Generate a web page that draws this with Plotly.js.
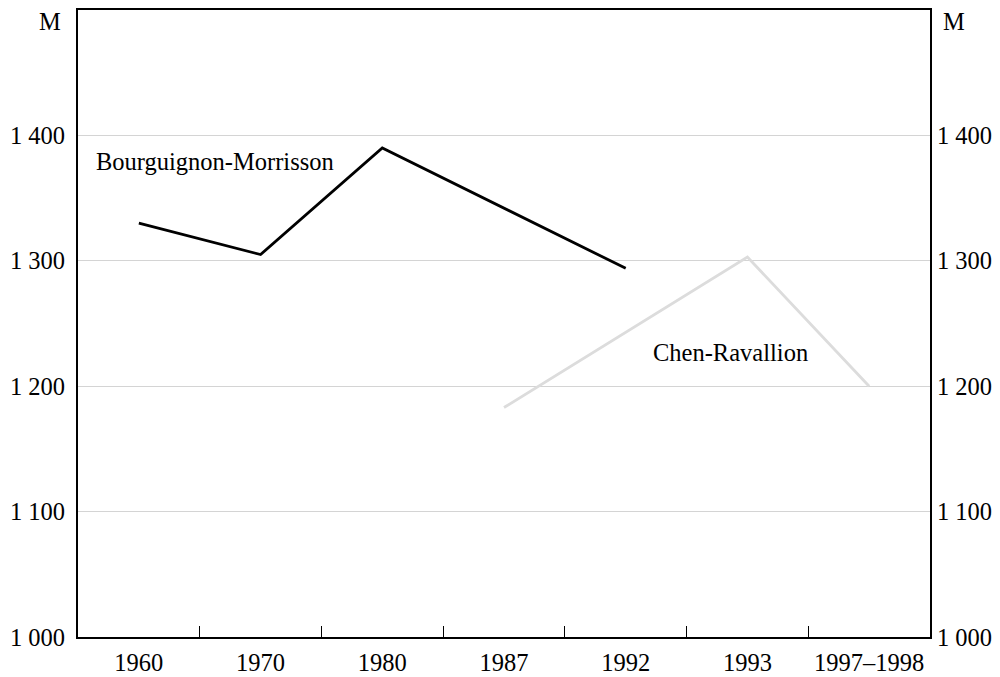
<!DOCTYPE html>
<html>
<head>
<meta charset="utf-8">
<script src="https://cdn.plot.ly/plotly-3.0.1.min.js"></script>
<style>html,body{margin:0;padding:0;background:#fff;}#chart{width:1000px;height:677px;}</style>
</head>
<body>
<div id="chart"></div>
<script>
const categories = ["1960", "1970", "1980", "1987", "1992", "1993", "1997–1998"];
const bourguignonMorrisson = [1330, 1305, 1390, null, 1294, null, null];
const chenRavallion = [null, null, null, 1183, null, 1303, 1200];
const yTickVals = [1000, 1100, 1200, 1300, 1400];
const yTickLabels = ["1 000", "1 100", "1 200", "1 300", "1 400"];
const seriesNames = ["Bourguignon-Morrisson", "Chen-Ravallion"];
const unitLabel = "M";

const FONT = "Liberation Serif, Times New Roman, serif";
const FS = 24.5;

const traces = [
  {x: categories, y: bourguignonMorrisson, type: "scatter", mode: "lines", connectgaps: true,
   name: seriesNames[0], line: {color: "#000000", width: 2.8}, xaxis: "x", yaxis: "y"},
  {x: categories, y: chenRavallion, type: "scatter", mode: "lines", connectgaps: true,
   name: seriesNames[1], line: {color: "#dcdcdc", width: 2.8}, xaxis: "x", yaxis: "y2"}
];

const yCommon = {
  range: [1000, 1500], tickvals: yTickVals, ticktext: yTickLabels,
  showline: true, linecolor: "#000", linewidth: 2, ticks: "", zeroline: false,
  tickfont: {family: FONT, size: FS, color: "#000"}
};

const layout = {
  width: 1000, height: 677,
  margin: {l: 78, r: 70, t: 10, b: 40},
  paper_bgcolor: "#fff", plot_bgcolor: "#fff",
  showlegend: false,
  font: {family: FONT, size: FS, color: "#000"},
  xaxis: {
    type: "category", categoryorder: "array", categoryarray: categories,
    range: [-0.5, 6.5], tickson: "boundaries", ticks: "inside", ticklen: 11,
    tickcolor: "#000", tickwidth: 1.2, showgrid: false,
    showline: true, linecolor: "#000", linewidth: 2, mirror: true,
    ticklabelstandoff: 3,
    tickfont: {family: FONT, size: FS, color: "#000"}
  },
  yaxis: Object.assign({}, yCommon, {side: "left", showgrid: true, gridcolor: "#d4d4d4", gridwidth: 1, ticklabelstandoff: 6}),
  yaxis2: Object.assign({}, yCommon, {side: "right", overlaying: "y", showgrid: false}),
  annotations: [
    {text: seriesNames[0], xref: "paper", yref: "paper", x: 0.161, y: 0.759, xanchor: "center", yanchor: "middle", showarrow: false, font: {family: FONT, size: FS, color: "#000"}},
    {text: seriesNames[1], xref: "paper", yref: "paper", x: 0.766, y: 0.4545, xanchor: "center", yanchor: "middle", showarrow: false, font: {family: FONT, size: FS, color: "#000"}},
    {text: unitLabel, xref: "paper", yref: "paper", x: -0.033, y: 0.982, xanchor: "center", yanchor: "middle", showarrow: false, font: {family: FONT, size: FS, color: "#000"}},
    {text: unitLabel, xref: "paper", yref: "paper", x: 1.028, y: 0.982, xanchor: "center", yanchor: "middle", showarrow: false, font: {family: FONT, size: FS, color: "#000"}}
  ]
};

Plotly.newPlot("chart", traces, layout, {displayModeBar: false, staticPlot: true});
</script>
</body>
</html>
